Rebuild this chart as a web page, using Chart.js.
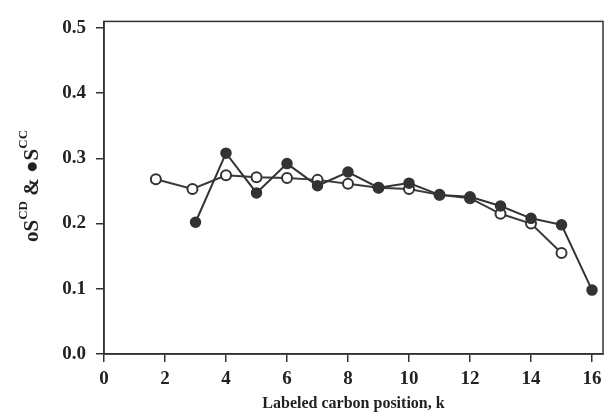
<!DOCTYPE html>
<html>
<head>
<meta charset="utf-8">
<script src="https://cdn.jsdelivr.net/npm/chart.js@4.4.0/dist/chart.umd.min.js"></script>
<style>
  html, body { margin: 0; padding: 0; background: #fff; }
  #wrap { width: 610px; height: 413px; }
</style>
</head>
<body>
<div id="wrap"><canvas id="grafico"></canvas></div>
<script>
// ---- dados ----
const xTicks = [0, 2, 4, 6, 8, 10, 12, 14, 16];
const yTicks = [0, 0.1, 0.2, 0.3, 0.4, 0.5];

// S^CD (círculos abertos)
const kAbertos = [1.7, 2.9, 4, 5, 6, 7, 8, 9, 10, 11, 12, 13, 14, 15];
const sCD      = [0.268, 0.253, 0.274, 0.271, 0.270, 0.267, 0.261, 0.255, 0.253, 0.244, 0.239, 0.215, 0.200, 0.155];

// S^CC (círculos cheios)
const kCheios = [3, 4, 5, 6, 7, 8, 9, 10, 11, 12, 13, 14, 15, 16];
const sCC     = [0.202, 0.308, 0.247, 0.292, 0.258, 0.279, 0.255, 0.262, 0.244, 0.241, 0.227, 0.208, 0.198, 0.098];

const fonte = "'Liberation Serif', 'DejaVu Serif', serif";

const pontos = (xs, ys) => xs.map((x, i) => ({ x, y: ys[i] }));

// moldura (topo e direita)
const moldura = {
  id: "moldura",
  beforeDatasetsDraw(chart) {
    const { ctx, chartArea: a } = chart;
    ctx.save();
    ctx.strokeStyle = "#333";
    ctx.lineWidth = 1.5;
    ctx.strokeRect(a.left, a.top, a.right - a.left, a.bottom - a.top);
    ctx.restore();
  }
};

// título do eixo y com sobrescritos
const tituloY = {
  id: "tituloY",
  afterDraw(chart) {
    const ctx = chart.ctx;
    const partes = [
      { t: "o", sup: false },
      { t: "S", sup: false },
      { t: "CD", sup: true },
      { t: " & ", sup: false },
      { t: "\u25CF", sup: false },
      { t: "S", sup: false },
      { t: "CC", sup: true }
    ];
    const fGrande = "bold 21px " + fonte;
    const fPeq = "bold 13px " + fonte;
    let total = 0;
    partes.forEach(p => {
      ctx.font = p.sup ? fPeq : fGrande;
      p.w = ctx.measureText(p.t).width;
      total += p.w;
    });
    ctx.save();
    ctx.translate(38, 186);
    ctx.rotate(-Math.PI / 2);
    ctx.fillStyle = "#222";
    ctx.textBaseline = "alphabetic";
    let x = -total / 2;
    partes.forEach(p => {
      ctx.font = p.sup ? fPeq : fGrande;
      ctx.fillText(p.t, x, p.sup ? -11 : 0);
      x += p.w;
    });
    ctx.restore();
  }
};

new Chart(document.getElementById("grafico"), {
  type: "line",
  data: {
    datasets: [
      {
        label: "S^CC",
        data: pontos(kCheios, sCC),
        borderColor: "#333",
        borderWidth: 2,
        backgroundColor: "#333",
        pointBackgroundColor: "#333",
        pointBorderColor: "#333",
        pointRadius: 5,
        pointBorderWidth: 1.5,
        tension: 0
      },
      {
        label: "S^CD",
        data: pontos(kAbertos, sCD),
        borderColor: "#3a3a3a",
        borderWidth: 2,
        backgroundColor: "#fff",
        pointBackgroundColor: "#fff",
        pointBorderColor: "#333",
        pointRadius: 5,
        pointBorderWidth: 2,
        tension: 0
      }
    ]
  },
  options: {
    responsive: true,
    maintainAspectRatio: false,
    animation: false,
    layout: { padding: { top: 4, right: 2, left: 0, bottom: 0 } },
    plugins: { legend: { display: false }, tooltip: { enabled: false } },
    scales: {
      x: {
        type: "linear",
        min: 0,
        max: 16.36,
        afterBuildTicks: s => { s.ticks = xTicks.map(v => ({ value: v })); },
        afterFit: s => { s.height = 59; },
        grid: { drawOnChartArea: false, drawTicks: true, tickLength: 8, color: "#333", lineWidth: 1.5 },
        border: { display: true, color: "#333", width: 1.5 },
        ticks: {
          color: "#222",
          font: { family: fonte, size: 19, weight: "bold" },
          padding: 6,
          maxRotation: 0,
          callback: v => String(v)
        },
        title: {
          display: true,
          text: "Labeled carbon position, k",
          color: "#222",
          font: { family: fonte, size: 16, weight: "bold" },
          padding: { top: 0, bottom: 0 }
        }
      },
      y: {
        min: 0,
        max: 0.51,
        afterBuildTicks: s => { s.ticks = yTicks.map(v => ({ value: v })); },
        afterFit: s => { s.width = 104; },
        grid: { drawOnChartArea: false, drawTicks: true, tickLength: 8, color: "#333", lineWidth: 1.5 },
        border: { display: true, color: "#333", width: 1.5 },
        ticks: {
          color: "#222",
          font: { family: fonte, size: 19, weight: "bold" },
          padding: 10,
          callback: v => v.toFixed(1)
        }
      }
    }
  },
  plugins: [moldura, tituloY]
});
</script>
</body>
</html>
